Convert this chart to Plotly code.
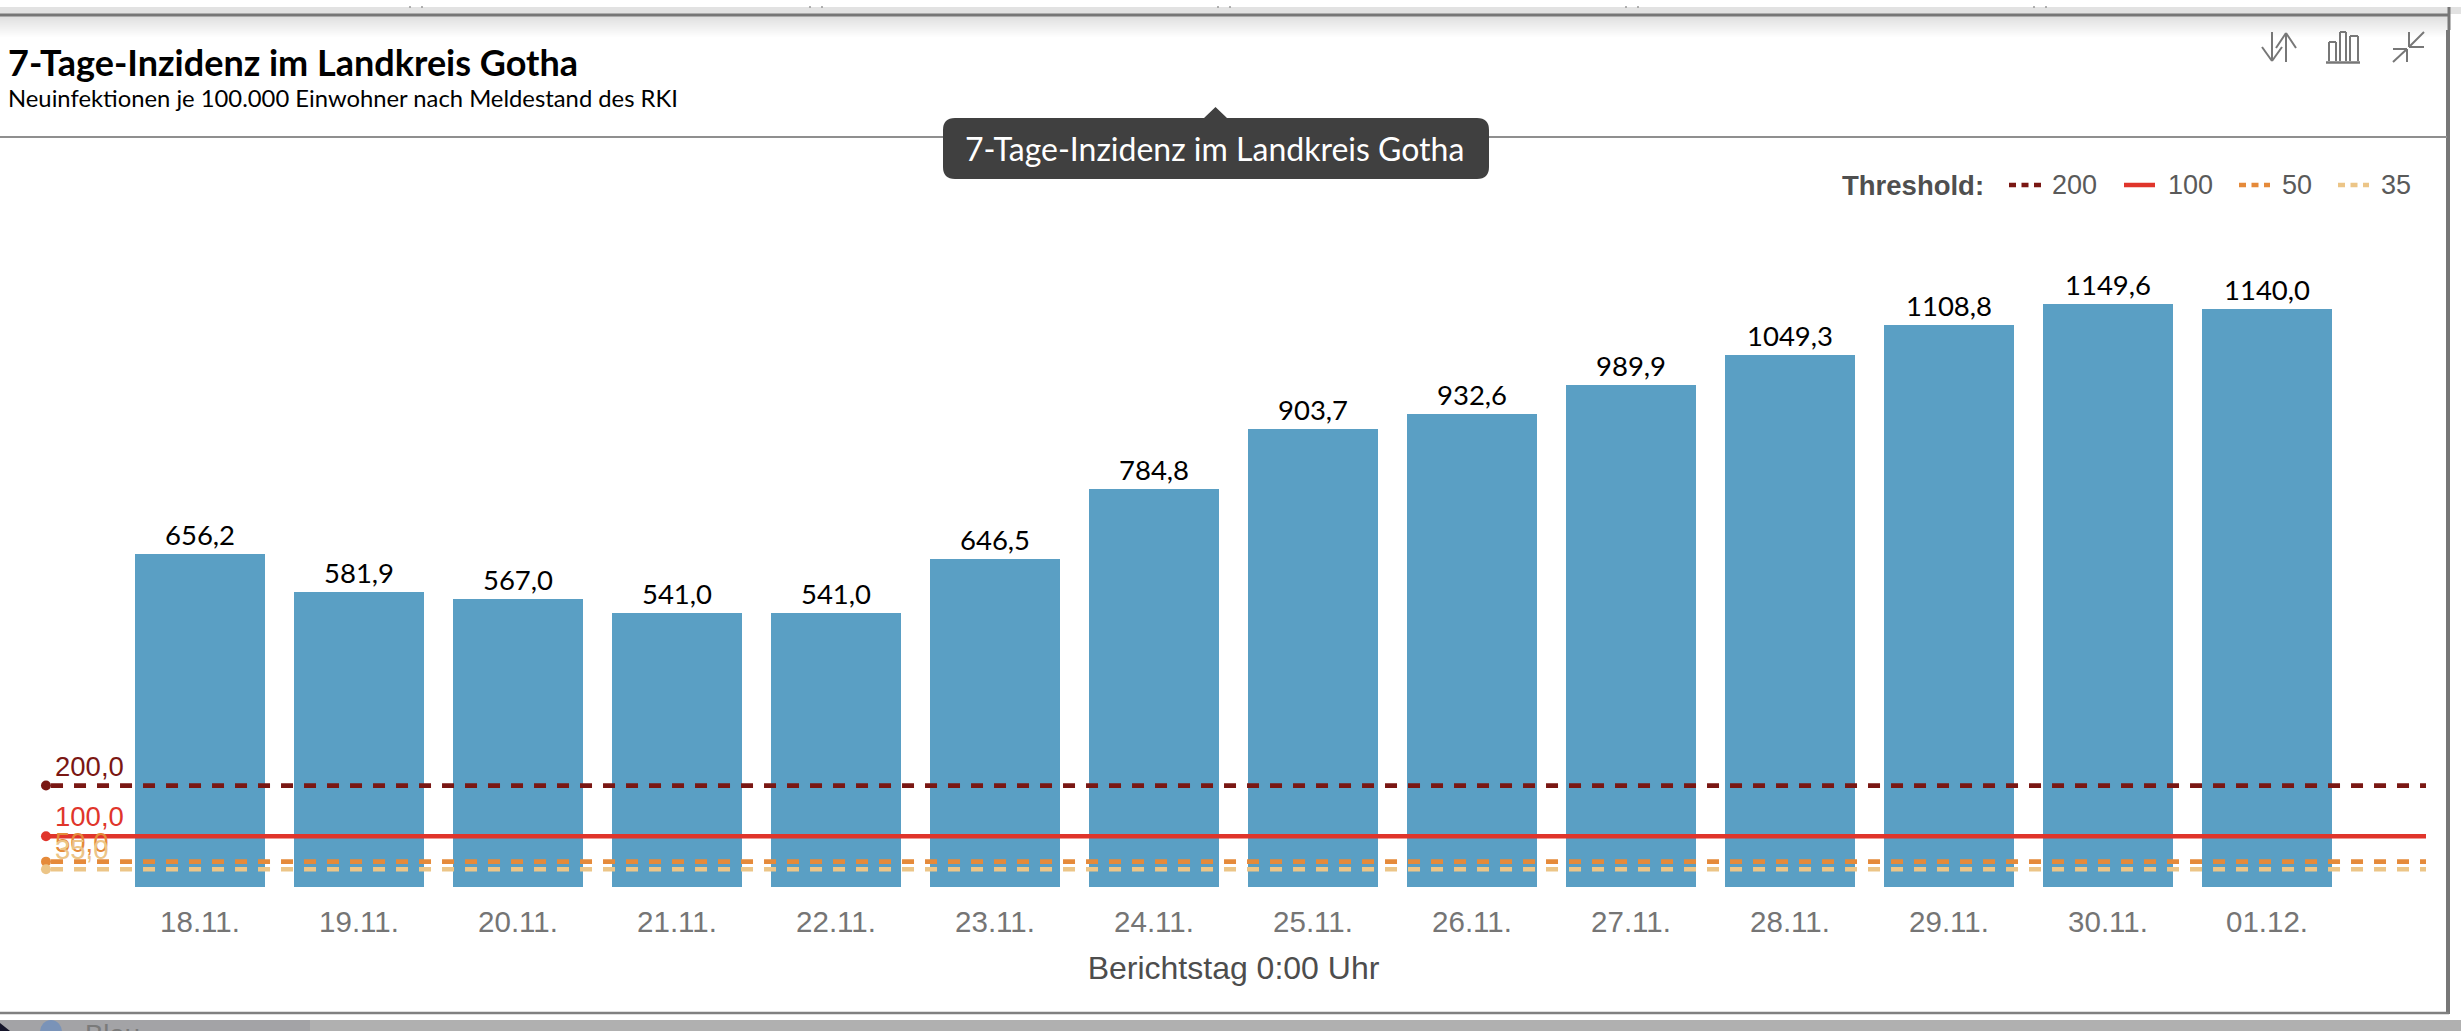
import plotly.graph_objects as go

W, H = 2461, 1031

# ---- data ----
categories = ["18.11.", "19.11.", "20.11.", "21.11.", "22.11.", "23.11.", "24.11.",
              "25.11.", "26.11.", "27.11.", "28.11.", "29.11.", "30.11.", "01.12."]
incidence = [656.2, 581.9, 567.0, 541.0, 541.0, 646.5, 784.8,
             903.7, 932.6, 989.9, 1049.3, 1108.8, 1149.6, 1140.0]
thresholds = [200, 100, 50, 35]
threshold_colors = ["#7a1713", "#e0352b", "#e58a3a", "#ecc587"]
threshold_dash = ["12px,11px", "solid", "12px,11px", "12px,11px"]
title_text = "7-Tage-Inzidenz im Landkreis Gotha"
subtitle_text = "Neuinfektionen je 100.000 Einwohner nach Meldestand des RKI"
axis_title = "Berichtstag 0:00 Uhr"


def px(x):
    return x / W


def py(y):
    return 1 - y / H


def rect(x0, y0, x1, y1, fill, layer="above"):
    return dict(type="rect", xref="paper", yref="paper", x0=px(x0), x1=px(x1), y0=py(y0), y1=py(y1),
                fillcolor=fill, line_width=0, layer=layer)


def seg(x0, y0, x1, y1, color="#777777", width=2, dash="solid"):
    return dict(type="line", xref="paper", yref="paper", x0=px(x0), x1=px(x1), y0=py(y0), y1=py(y1),
                line=dict(color=color, width=width, dash=dash), layer="above")


def label(x, y, text, size, color, font="Liberation Sans", anchor="left", bold=False):
    # y is the vertical middle of the text box, in pixels
    t = f"<b>{text}</b>" if bold else text
    return dict(xref="paper", yref="paper", x=px(x), y=py(y), text=t, showarrow=False,
                xanchor=anchor, yanchor="middle", borderpad=0, borderwidth=0,
                font=dict(family=font, size=size, color=color))


fig = go.Figure()

fig.add_bar(x=list(range(len(categories))), y=incidence, width=0.8145,
            marker=dict(color="#5a9fc4", line_width=0),
            texttemplate="%{y:.1f}", textposition="outside", cliponaxis=False,
            textfont=dict(family="Lato", size=27.5, color="#000000"), textangle=0,
            hoverinfo="skip", showlegend=False)

LINE_START = -0.937
MARK_X = -0.9686
LINE_END = 14.0
for t, c, d in zip(thresholds, threshold_colors, threshold_dash):
    x0 = MARK_X if d == "solid" else LINE_START
    fig.add_scatter(x=[x0, LINE_END], y=[t, t], mode="lines",
                    line=dict(color=c, width=4.6, dash=d), cliponaxis=False,
                    hoverinfo="skip", showlegend=False)
    fig.add_scatter(x=[MARK_X], y=[t], mode="markers", marker=dict(color=c, size=10),
                    cliponaxis=False, hoverinfo="skip", showlegend=False)

shapes = []
# top chrome
shapes.append(rect(0, 7, W, 14, "#e2e2e2", "below"))
for i in range(22):
    v = 224 + int(31 * i / 21)
    shapes.append(rect(0, 16 + i, 2448, 17 + i, f"rgb({v},{v},{v})", "below"))
for mx in [416, 816, 1224, 1632, 2040]:
    shapes.append(seg(mx - 6, 6, mx - 6, 8, "#999999", 1.5))
    shapes.append(seg(mx + 6, 6, mx + 6, 8, "#999999", 1.5))
shapes.append(seg(0, 15, 2450, 15, "#777777", 3))
shapes.append(seg(2449, 7, 2449, 30, "#777777", 3))
shapes.append(seg(2448, 30, 2448, 1014, "#777777", 4))
shapes.append(seg(0, 137, 2447, 137, "#8f8f8f", 2))
# bottom chrome
shapes.append(seg(0, 1013, 2449, 1013, "#808080", 2.5))
shapes.append(rect(0, 1020, 310, H, "#a3a3a6"))
shapes.append(rect(310, 1020, W, H, "#b0b0b0"))
shapes.append(dict(type="circle", xref="paper", yref="paper", x0=px(40), x1=px(62), y0=py(1044), y1=py(1020),
                   fillcolor="#7a93b8", line_width=0, layer="above"))
shapes.append(dict(type="path", xref="paper", yref="paper", layer="above", fillcolor="#15152a", line_width=0,
                   path=f"M {px(0)} {py(1023)} L {px(10)} {py(H)} L {px(0)} {py(H)} Z"))

# tooltip
tx0, tx1, ty0, ty1, r = 943, 1489, 118, 179, 12
shapes.append(dict(type="path", xref="paper", yref="paper", layer="above", fillcolor="#404040", line_width=0,
                   path=(f"M {px(tx0 + r)} {py(ty0)} L {px(1204)} {py(ty0)} L {px(1215.5)} {py(107)} "
                         f"L {px(1227)} {py(ty0)} L {px(tx1 - r)} {py(ty0)} "
                         f"Q {px(tx1)} {py(ty0)} {px(tx1)} {py(ty0 + r)} L {px(tx1)} {py(ty1 - r)} "
                         f"Q {px(tx1)} {py(ty1)} {px(tx1 - r)} {py(ty1)} L {px(tx0 + r)} {py(ty1)} "
                         f"Q {px(tx0)} {py(ty1)} {px(tx0)} {py(ty1 - r)} L {px(tx0)} {py(ty0 + r)} "
                         f"Q {px(tx0)} {py(ty0)} {px(tx0 + r)} {py(ty0)} Z")))

# icons
icon = "#777777"
shapes += [seg(2272, 32, 2272, 61, icon), seg(2262, 47, 2272, 61, icon), seg(2282, 47, 2272, 61, icon),
           seg(2286, 33, 2286, 62, icon), seg(2276, 48, 2286, 33, icon), seg(2296, 48, 2286, 33, icon)]
shapes += [seg(2326, 62.5, 2360, 62.5, icon, 2.5)]
for a, b, top in [(2329, 2336, 42), (2340, 2346, 32), (2350, 2358, 36)]:
    shapes += [seg(a, top, a, 61, icon), seg(b, top, b, 61, icon), seg(a, top, b, top, icon)]
shapes += [seg(2409, 32, 2409, 47, icon), seg(2409, 47, 2424, 47, icon), seg(2424, 32, 2409, 47, icon),
           seg(2407, 49, 2407, 62, icon), seg(2393, 49, 2407, 49, icon), seg(2393, 62, 2407, 49, icon)]

# legend
LEG_Y = 185
leg_x = [(2009, 2041, 2052), (2124, 2155, 2168), (2239, 2270, 2282), (2338, 2369, 2381)]
for (a, b, tx), c, d in zip(leg_x, threshold_colors, threshold_dash):
    shapes.append(seg(a, LEG_Y, b, LEG_Y, c, 4.5, "solid" if d == "solid" else "7px,5.5px"))

annotations = [
    label(8, 62, f"<b>{title_text}</b>", 36, "#000000", "Lato"),
    label(8, 98, subtitle_text, 23.8, "#000000", "Lato"),
    label(1214, 148, title_text, 32, "#ffffff", "Lato", "center"),
    label(1842, 185, "Threshold:", 27.5, "#4f4f4f", bold=True),
    label(85, 1034, "Blau", 27.5, "#7a7a7a"),
]
for (a, b, tx), t in zip(leg_x, thresholds):
    annotations.append(label(tx, 185, str(t), 27, "#5a5a5a"))
# threshold value labels, placed on the y axis
for t, c in zip(thresholds, threshold_colors):
    annotations.append(dict(xref="x", yref="y", x=MARK_X, y=t, xshift=8, yshift=3 + 0, xanchor="left", yanchor="bottom",
                            text=f"{t:.1f}".replace(".", ","), showarrow=False, borderpad=0,
                            font=dict(family="Liberation Sans", size=27.5, color=c)))

fig.update_layout(
    width=W, height=H, autosize=False,
    margin=dict(l=0, r=0, t=0, b=0),
    paper_bgcolor="#ffffff", plot_bgcolor="#ffffff",
    separators=",.",
    showlegend=False,
    bargap=0,
    shapes=shapes,
    annotations=annotations,
    xaxis=dict(domain=[px(41), px(2426)], range=[-1, 14], tickmode="array",
               tickvals=list(range(len(categories))), ticktext=categories,
               showgrid=False, zeroline=False, showline=False, ticks="", ticklen=0,
               ticklabelstandoff=14,
               tickfont=dict(family="Liberation Sans", size=29.5, color="#757575"),
               title=dict(text=axis_title, standoff=20,
                          font=dict(family="Liberation Sans", size=32, color="#4d4d4d"))),
    yaxis=dict(domain=[py(887), py(200)], range=[0, 1354.8], visible=False),
)

fig.write_html("out.html", config=dict(displayModeBar=False),
               post_script=("document.body.style.margin='0';document.body.style.overflow='hidden';"
                            "document.querySelectorAll('.main-svg').forEach(function(s){"
                            "s.style.fontVariantLigatures='none';});"))
